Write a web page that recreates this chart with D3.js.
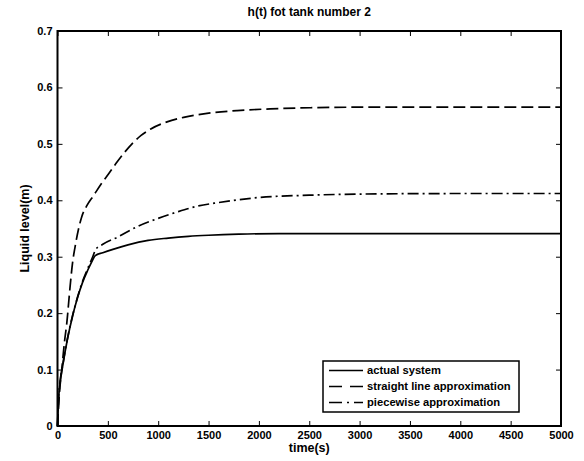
<!DOCTYPE html>
<html lang="en">
<head>
    <meta charset="UTF-8">
    <title>h(t) fot tank number 2</title>
    <script src="https://d3js.org/d3.v7.min.js"></script>
    <style>
        body {
            margin: 0;
            background-color: #fff;
            font-family: Arial, "Liberation Sans", sans-serif;
        }
        .axis text {
            font-size: 11px;
            font-weight: bold;
            fill: #000;
        }
        .axis path, .axis line {
            stroke: #000;
        }
        .label {
            font-weight: bold;
            fill: #000;
        }
        .series {
            fill: none;
            stroke: #000;
            stroke-width: 1.7px;
        }
        .legend-text {
            font-size: 11.2px;
            font-weight: bold;
        }
    </style>
</head>
<body>
    <div id="chart"></div>

    <script>
        // time (s) and liquid level (m)
        const actualT = [0, 10, 25, 50, 100, 150, 200, 250, 300, 340, 375, 450, 550, 700, 900, 1100, 1300, 1500, 1800, 2200, 3000, 4000, 5000];
        const actualH = [0, 0.045, 0.075, 0.105, 0.155, 0.195, 0.228, 0.255, 0.276, 0.291, 0.302, 0.307, 0.313, 0.321, 0.329, 0.333, 0.336, 0.338, 0.340, 0.341, 0.341, 0.341, 0.341];

        const straightT = [0, 20, 42, 70, 92, 125, 150, 175, 210, 241, 290, 357, 430, 508, 580, 657, 740, 830, 922, 1088, 1253, 1485, 1783, 2113, 2510, 3000, 4000, 5000];
        const straightH = [0, 0.06, 0.1, 0.15, 0.182, 0.247, 0.29, 0.318, 0.35, 0.371, 0.39, 0.408, 0.428, 0.447, 0.465, 0.483, 0.5, 0.515, 0.526, 0.539, 0.547, 0.554, 0.559, 0.562, 0.564, 0.565, 0.565, 0.565];

        const pieceT = [0, 10, 25, 50, 100, 150, 200, 250, 300, 350, 380, 450, 600, 800, 1000, 1200, 1400, 1600, 1800, 2000, 2500, 3000, 4000, 5000];
        const pieceH = [0, 0.047, 0.078, 0.106, 0.156, 0.196, 0.229, 0.257, 0.279, 0.3, 0.313, 0.322, 0.335, 0.354, 0.368, 0.38, 0.39, 0.396, 0.401, 0.405, 0.409, 0.411, 0.412, 0.412];

        const xTicks = [0, 500, 1000, 1500, 2000, 2500, 3000, 3500, 4000, 4500, 5000];
        const yTicks = [0, 0.1, 0.2, 0.3, 0.4, 0.5, 0.6, 0.7];

        const legendNames = ["actual system", "straight line approximation", "piecewise approximation"];
        const dashes = [null, "12,5", "11,4,2,4"];

        const width = 584, height = 461;
        const margin = { top: 31, right: 23, bottom: 35, left: 57.5 };

        const svg = d3.select('#chart')
            .append('svg')
            .attr('width', width)
            .attr('height', height);

        const x = d3.scaleLinear()
            .domain([0, 5000])
            .range([margin.left, width - margin.right]);
        const y = d3.scaleLinear()
            .domain([0, 0.7])
            .range([height - margin.bottom, margin.top]);

        // axes, ticks pointing inward
        svg.append('g')
            .attr('class', 'axis')
            .attr('transform', `translate(0, ${y(0)})`)
            .call(d3.axisBottom(x).tickValues(xTicks).tickFormat(d3.format('d')).tickSizeInner(-5).tickSizeOuter(0).tickPadding(5));
        svg.append('g')
            .attr('class', 'axis')
            .attr('transform', `translate(${x(0)}, 0)`)
            .call(d3.axisLeft(y).tickValues(yTicks).tickFormat(d3.format('')).tickSizeInner(-5).tickSizeOuter(0).tickPadding(5));
        svg.append('g')
            .attr('class', 'axis')
            .attr('transform', `translate(0, ${y(0.7)})`)
            .call(d3.axisTop(x).tickValues(xTicks).tickSizeInner(-5).tickSizeOuter(0).tickFormat(''));
        svg.append('g')
            .attr('class', 'axis')
            .attr('transform', `translate(${x(5000)}, 0)`)
            .call(d3.axisRight(y).tickValues(yTicks).tickSizeInner(-5).tickSizeOuter(0).tickFormat(''));

        svg.selectAll('.axis path.domain').remove();

        // plot frame
        svg.append('rect')
            .attr('x', x(0))
            .attr('y', y(0.7))
            .attr('width', x(5000) - x(0))
            .attr('height', y(0) - y(0.7))
            .attr('fill', 'none')
            .attr('stroke', '#000')
            .attr('stroke-width', 2);

        const line = d3.line()
            .x(d => x(d[0]))
            .y(d => y(d[1]))
            .curve(d3.curveMonotoneX);

        const series = [
            d3.zip(actualT, actualH),
            d3.zip(straightT, straightH),
            d3.zip(pieceT, pieceH)
        ];

        svg.selectAll('.series')
            .data(series)
            .enter().append('path')
            .attr('class', 'series')
            .attr('d', line)
            .attr('stroke-dasharray', (d, i) => dashes[i]);

        // title and axis labels
        svg.append('text')
            .attr('class', 'label')
            .attr('x', (x(0) + x(5000)) / 2)
            .attr('y', 16)
            .attr('text-anchor', 'middle')
            .style('font-size', '12px')
            .text('h(t) fot tank number 2');
        svg.append('text')
            .attr('class', 'label')
            .attr('x', (x(0) + x(5000)) / 2)
            .attr('y', 452)
            .attr('text-anchor', 'middle')
            .style('font-size', '12.5px')
            .text('time(s)');
        svg.append('text')
            .attr('class', 'label')
            .attr('transform', 'rotate(-90)')
            .attr('x', -(y(0) + y(0.7)) / 2)
            .attr('y', 29)
            .attr('text-anchor', 'middle')
            .style('font-size', '12.5px')
            .text('Liquid level(m)');

        // legend
        const legend = svg.append('g')
            .attr('transform', 'translate(323, 361)');
        legend.append('rect')
            .attr('width', 196)
            .attr('height', 51)
            .attr('fill', '#fff')
            .attr('stroke', '#000')
            .attr('stroke-width', 1.5);
        const rows = legend.selectAll('.row')
            .data(legendNames)
            .enter().append('g')
            .attr('class', 'row')
            .attr('transform', (d, i) => `translate(0, ${9.5 + i * 16})`);
        rows.append('line')
            .attr('x1', 6)
            .attr('x2', 40)
            .attr('stroke', '#000')
            .attr('stroke-width', 1.7)
            .attr('stroke-dasharray', (d, i) => i === 1 ? '13,8' : i === 2 ? '13,5,2,5' : null);
        rows.append('text')
            .attr('class', 'legend-text')
            .attr('x', 44)
            .attr('dy', '0.35em')
            .text(d => d);
    </script>
</body>
</html>
